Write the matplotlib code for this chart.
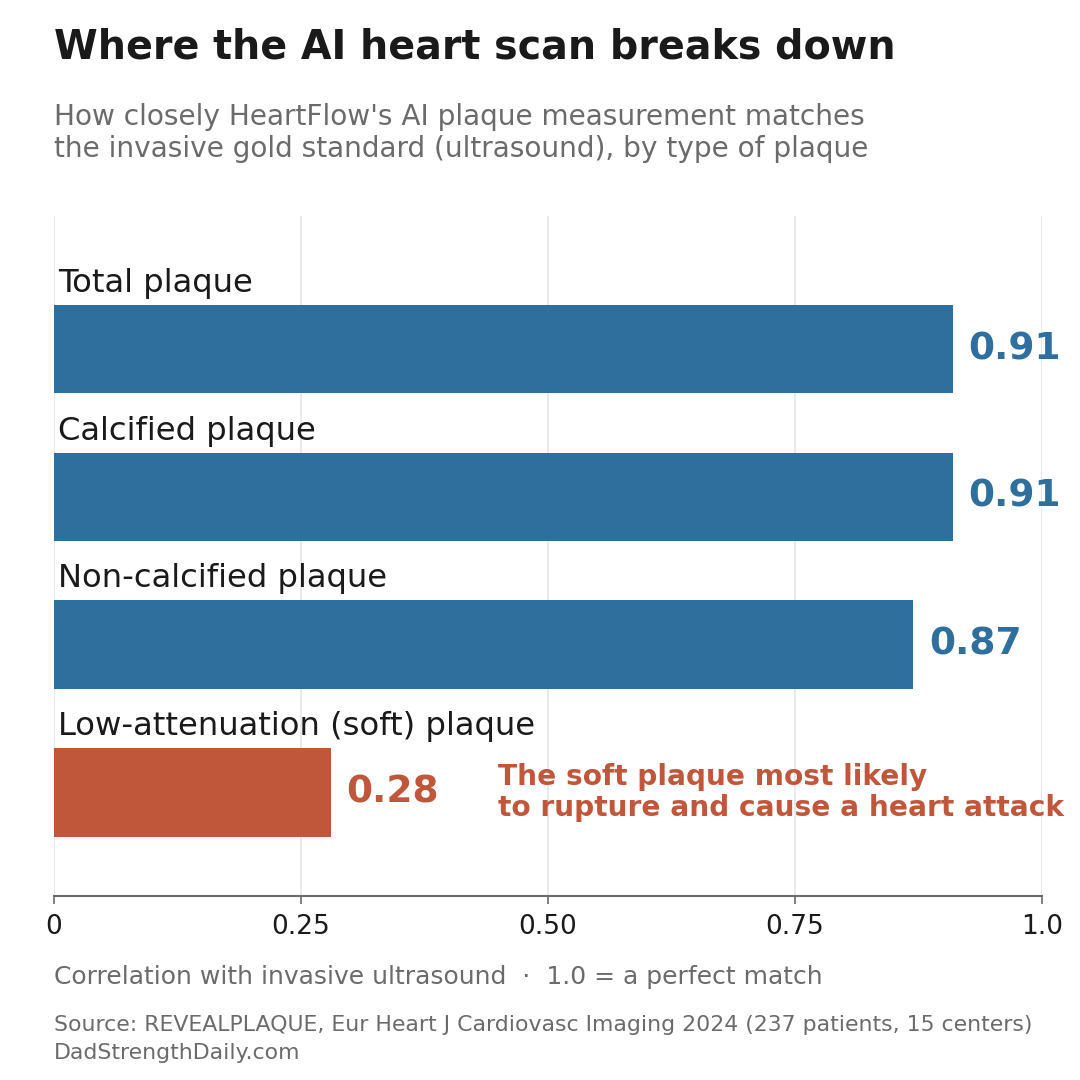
"""
    Where the AI heart scan breaks down - HeartFlow plaque correlation
"""
import matplotlib
matplotlib.use('Agg')
import matplotlib.pyplot as plt

categories = ['Total plaque', 'Calcified plaque', 'Non-calcified plaque',
              'Low-attenuation (soft) plaque']
values = [0.91, 0.91, 0.87, 0.28]
value_labels = ['0.91', '0.91', '0.87', '0.28']
tick_values = [0, 0.25, 0.5, 0.75, 1.0]
tick_labels = ['0', '0.25', '0.50', '0.75', '1.0']

BLUE = '#2e6f9e'
RED = '#c0573b'
GRAY = '#6b6b6b'
DARK = '#1a1a1a'


def draw_graph():
    plt.rcParams['font.family'] = ['DejaVu Sans']
    fig = plt.figure(figsize=(10.8, 10.8), dpi=100)
    ax = fig.add_axes([0.05, 0.1704, 0.9145, 0.6296])

    colors = [RED if v < 0.5 else BLUE for v in values]
    ypos = list(range(len(categories)))
    ax.barh(ypos, values, height=0.6, color=colors, zorder=2)
    ax.set_ylim(3.70, -0.90)
    ax.set_xlim(0, 1.0)

    for i, (cat, v, lab, c) in enumerate(zip(categories, values, value_labels, colors)):
        ax.text(0.004, i - 0.34, cat, fontsize=23.2, color=DARK, va='bottom', ha='left')
        ax.text(v + 0.016, i, lab, fontsize=27, fontweight='bold', color=c,
                va='center', ha='left')

    ax.text(0.45, 3, 'The soft plaque most likely\nto rupture and cause a heart attack',
            fontsize=20.2, fontweight='bold', color=RED, va='center', ha='left',
            linespacing=1.12)

    ax.set_xticks(tick_values)
    ax.set_xticklabels(tick_labels, fontsize=19, color=DARK)
    ax.set_yticks([])
    ax.grid(axis='x', color='#e6e6e6', linewidth=1.2, zorder=0)
    ax.set_axisbelow(True)
    for s in ['top', 'right', 'left']:
        ax.spines[s].set_visible(False)
    ax.spines['bottom'].set_color(GRAY)
    ax.spines['bottom'].set_linewidth(1.5)
    ax.tick_params(axis='x', length=6, width=1.2, color=GRAY, pad=7)

    fig.text(0.05, 0.956, 'Where the AI heart scan breaks down', fontsize=28.5,
             fontweight='bold', color=DARK, va='center', ha='left')
    fig.text(0.05, 0.877, "How closely HeartFlow's AI plaque measurement matches\n"
             "the invasive gold standard (ultrasound), by type of plaque",
             fontsize=20.2, color=GRAY, va='center', ha='left', linespacing=1.2)
    fig.text(0.05, 0.095, 'Correlation with invasive ultrasound  \u00b7  1.0 = a perfect match',
             fontsize=18, color=GRAY, va='center', ha='left')
    fig.text(0.05, 0.038, 'Source: REVEALPLAQUE, Eur Heart J Cardiovasc Imaging 2024 '
             '(237 patients, 15 centers)\nDadStrengthDaily.com',
             fontsize=15.8, color=GRAY, va='center', ha='left', linespacing=1.45)

    fig.savefig('out.png', dpi=100)


def main():
    draw_graph()


main()
